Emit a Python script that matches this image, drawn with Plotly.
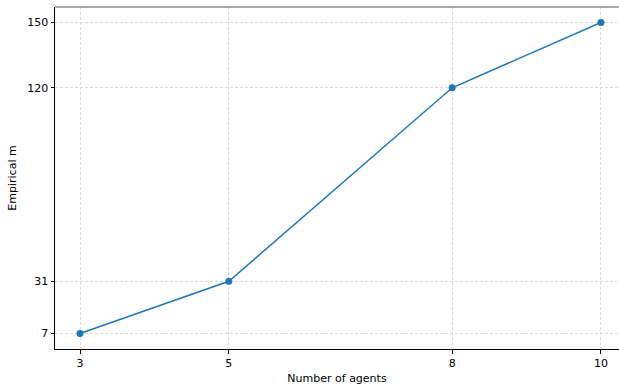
import plotly.graph_objects as go

agents = [3, 5, 8, 10]
empirical_m = [7, 31, 120, 150]
x_ticks = [3, 5, 8, 10]
y_ticks = [7, 31, 120, 150]

fig = go.Figure()
fig.add_trace(go.Scatter(
    x=agents, y=empirical_m, mode="lines+markers",
    line=dict(color="#1f77b4", width=1.5),
    marker=dict(color="#1f77b4", size=7),
    showlegend=False, cliponaxis=False,
))

font = dict(family="DejaVu Sans", size=11, color="black")
grid = dict(showgrid=True, gridcolor="#dadada", griddash="3px,2px", gridwidth=0.8)
fig.update_layout(
    width=619, height=387,
    margin=dict(l=55, r=0, t=7, b=38, autoexpand=False),
    paper_bgcolor="white", plot_bgcolor="white",
    font=font,
    xaxis=dict(
        range=[2.664, 10.242], tickvals=x_ticks, ticktext=[str(v) for v in x_ticks],
        **grid, automargin=False,
        showline=True, linecolor="black", linewidth=1,
        ticks="outside", ticklen=3.5, tickcolor="black", tickwidth=1,
        zeroline=False,
        title=dict(text="Number of agents", font=font, standoff=5),
    ),
    yaxis=dict(
        range=[-0.15, 157.15], tickvals=y_ticks, ticktext=[str(v) for v in y_ticks],
        **grid, automargin=False,
        showline=True, linecolor="black", linewidth=1,
        ticks="outside", ticklen=3.5, tickcolor="black", tickwidth=1,
        zeroline=False,
        title=dict(text="Empirical m", font=font, standoff=8),
    ),
)
fig.add_shape(type="line", xref="paper", yref="paper", x0=0, x1=1, y0=1, y1=1,
              line=dict(color="#555555", width=1.2))
fig.write_html("out.html", config={"displayModeBar": False},
               post_script="document.body.style.margin='0';document.body.style.overflow='hidden';")
